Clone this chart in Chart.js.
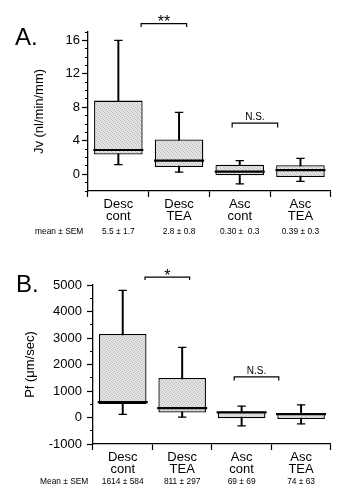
<!DOCTYPE html>
<html>
<head>
<meta charset="utf-8">
<script src="https://cdn.jsdelivr.net/npm/chart.js@4.4.1/dist/chart.umd.min.js"></script>
<style>
  html, body { margin: 0; padding: 0; background: #ffffff; }
  body { width: 358px; height: 500px; overflow: hidden; position: relative; }
  .panel { position: absolute; left: 0; width: 358px; height: 250px; }
</style>
</head>
<body>
<div class="panel" style="top:0"><canvas id="chartA"></canvas></div>
<div class="panel" style="top:250px"><canvas id="chartB"></canvas></div>
<script>
// ---------- data ----------
const categories = [["Desc", "cont"], ["Desc", "TEA"], ["Asc", "cont"], ["Asc", "TEA"]];

// Panel A: Jv (nl/min/mm)
const jvMin    = [1.15, 0.25, -1.15, -0.85];
const jvQ1     = [2.35, 0.87, -0.12, -0.32];
const jvMedian = [2.9, 1.63, 0.32, 0.5];
const jvQ3     = [8.8, 4.15, 1.15, 1.07];
const jvMax    = [16.0, 7.4, 1.63, 1.9];
const jvMeanSem = ["5.5 ± 1.7", "2.8 ± 0.8", "0.30 ±  0.3", "0.39 ± 0.3"];
const jvTicks = [0, 4, 8, 12, 16];
const jvSigFrom = [0, 2];
const jvSigTo = [1, 3];
const jvSigY = [18.0, 6.1];
const jvSigEnd = [17.6, 5.6];
const jvSigText = ["**", "N.S."];

// Panel B: Pf (µm/sec)
const pfMin    = [115, 15, -315, -240];
const pfQ1     = [505, 190, -25, -60];
const pfMedian = [580, 355, 190, 125];
const pfQ3     = [3150, 1490, 230, 165];
const pfMax    = [4800, 2650, 430, 480];
const pfMeanSem = ["1614 ± 584", "811 ± 297", "69 ± 69", "74 ± 63"];
const pfTicks = [-1000, 0, 1000, 2000, 3000, 4000, 5000];
const pfSigFrom = [0, 2];
const pfSigTo = [1, 3];
const pfSigY = [5300, 1530];
const pfSigEnd = [5190, 1400];
const pfSigText = ["*", "N.S."];

// ---------- helpers ----------
const FONT = '"Liberation Sans", Arial, Helvetica, sans-serif';

function stipple() {
  const c = document.createElement('canvas');
  c.width = 4; c.height = 4;
  const g = c.getContext('2d');
  g.fillStyle = '#e3e3e3'; g.fillRect(0, 0, 4, 4);
  g.fillStyle = '#bdbdbd';
  g.fillRect(0, 0, 1, 1); g.fillRect(2, 1, 1, 1); g.fillRect(1, 2, 1, 1); g.fillRect(3, 3, 1, 1);
  return g.createPattern(c, 'repeat');
}
const boxFill = stipple();

function buildDatasets(mins, q1, med, q3, maxs, sFrom, sTo, sY, sEnd) {
  const ds = [
    { type: 'bar', label: 'box', data: q1.map((v, i) => [v, q3[i]]),
      backgroundColor: boxFill, borderColor: '#000', borderWidth: 1.3, borderSkipped: false,
      barPercentage: 0.8, categoryPercentage: 1, grouped: false, order: 1 },
    { type: 'bar', label: 'whisker', data: mins.map((v, i) => [v, maxs[i]]),
      backgroundColor: '#000', borderWidth: 0, barThickness: 1.3, grouped: false, order: 3 },
    { type: 'line', label: 'median', data: med, showLine: false, pointStyle: 'line',
      pointRadius: 25, pointHoverRadius: 25, pointBorderColor: '#000', pointBorderWidth: 2.2, order: 0 },
    { type: 'line', label: 'min', data: mins, showLine: false, pointStyle: 'line',
      pointRadius: 4.2, pointHoverRadius: 4.2, pointBorderColor: '#000', pointBorderWidth: 1.3, order: 0 },
    { type: 'line', label: 'max', data: maxs, showLine: false, pointStyle: 'line',
      pointRadius: 4.2, pointHoverRadius: 4.2, pointBorderColor: '#000', pointBorderWidth: 1.3, order: 0 }
  ];
  sFrom.forEach((f, k) => {
    ds.push({ type: 'line', label: 'sig' + k, xAxisID: 'xl',
      data: [{ x: f, y: sEnd[k] }, { x: f, y: sY[k] }, { x: sTo[k], y: sY[k] }, { x: sTo[k], y: sEnd[k] }],
      borderColor: '#000', borderWidth: 1.2, pointRadius: 0, tension: 0, clip: false, order: 0 });
  });
  return ds;
}

const annotPlugin = {
  id: 'annot',
  afterDraw(chart, args, o) {
    const ctx = chart.ctx, xs = chart.scales.x, ys = chart.scales.y, xl = chart.scales.xl;
    ctx.save();
    ctx.fillStyle = '#000';
    ctx.textBaseline = 'alphabetic';
    ctx.textAlign = 'left';
    ctx.font = '24px ' + FONT;
    ctx.fillText(o.letter, o.letterX, o.letterY);
    ctx.font = '8.4px ' + FONT;
    ctx.textBaseline = 'middle';
    ctx.fillText(o.meanLabel, o.meanLabelX, o.meanY);
    ctx.textAlign = 'center';
    o.means.forEach((m, i) => ctx.fillText(m, xs.getPixelForValue(i), o.meanY));
    ctx.textBaseline = 'alphabetic';
    o.sigText.forEach((t, k) => {
      const star = t.indexOf('*') === 0;
      ctx.font = (star ? '16px ' : '10px ') + FONT;
      const px = xl.getPixelForValue((o.sigFrom[k] + o.sigTo[k]) / 2);
      const py = ys.getPixelForValue(o.sigY[k]) + (star ? 3.5 : -3);
      ctx.fillText(t, px, py);
    });
    ctx.restore();
  }
};

function makeChart(id, cfg) {
  const yTickSet = cfg.ticks;
  return new Chart(document.getElementById(id), {
    type: 'bar',
    data: {
      labels: categories,
      datasets: buildDatasets(cfg.mins, cfg.q1, cfg.med, cfg.q3, cfg.maxs, cfg.sFrom, cfg.sTo, cfg.sY, cfg.sEnd)
    },
    plugins: [annotPlugin],
    options: {
      responsive: true,
      maintainAspectRatio: false,
      animation: false,
      events: [],
      layout: { padding: cfg.padding },
      plugins: {
        legend: { display: false },
        tooltip: { enabled: false },
        annot: {
          letter: cfg.letter, letterX: cfg.letterX, letterY: cfg.letterY,
          meanLabel: cfg.meanLabel, meanLabelX: cfg.meanLabelX, meanY: cfg.meanY,
          means: cfg.means, sigText: cfg.sText, sigFrom: cfg.sFrom, sigTo: cfg.sTo, sigY: cfg.sY
        }
      },
      scales: {
        x: {
          afterFit(s) { s.height = 40; },
          ticks: { color: '#000', font: { family: FONT, size: 13, lineHeight: 0.93 }, padding: 1, maxRotation: 0, autoSkip: false },
          grid: { drawOnChartArea: false, tickLength: 6, tickColor: '#000', tickWidth: 1.2, offset: true },
          border: { color: '#000', width: 1.3 }
        },
        xl: { type: 'linear', display: false, min: -0.5, max: 3.5 },
        y: {
          min: cfg.yMin, max: cfg.yMax,
          afterFit(s) { s.width = cfg.yWidth; },
          ticks: {
            stepSize: cfg.step, autoSkip: false, padding: cfg.tickPad, color: '#000',
            font: { family: FONT, size: 13 },
            callback: (v) => (yTickSet.includes(v) ? String(v) : '')
          },
          grid: {
            drawOnChartArea: false, tickLength: 6, tickColor: '#000', tickWidth: 1.2,
            tickBorderDash: [6, 3],
            tickBorderDashOffset: (c) => (c.tick && yTickSet.includes(c.tick.value) ? 0 : 6)
          },
          border: { color: '#000', width: 1.3 },
          title: { display: true, text: cfg.title, color: '#000', font: { family: FONT, size: 13 }, padding: 0 }
        }
      }
    }
  });
}

makeChart('chartA', {
  mins: jvMin, q1: jvQ1, med: jvMedian, q3: jvQ3, maxs: jvMax,
  sFrom: jvSigFrom, sTo: jvSigTo, sY: jvSigY, sEnd: jvSigEnd, sText: jvSigText,
  ticks: jvTicks, yMin: -2, yMax: 17, step: 1, yWidth: 56, tickPad: 2,
  title: 'Jv (nl/min/mm)',
  padding: { left: 32, right: 18, top: 32, bottom: 19 },
  letter: 'A.', letterX: 15, letterY: 45,
  meanLabel: 'mean ± SEM', meanLabelX: 35, meanY: 232, means: jvMeanSem
});

makeChart('chartB', {
  mins: pfMin, q1: pfQ1, med: pfMedian, q3: pfQ3, maxs: pfMax,
  sFrom: pfSigFrom, sTo: pfSigTo, sY: pfSigY, sEnd: pfSigEnd, sText: pfSigText,
  ticks: pfTicks, yMin: -1000, yMax: 5000, step: 500, yWidth: 70, tickPad: 5,
  title: 'Pf (μm/sec)',
  padding: { left: 23, right: 12, top: 35, bottom: 16 },
  letter: 'B.', letterX: 16, letterY: 42,
  meanLabel: 'Mean ± SEM', meanLabelX: 40, meanY: 232, means: pfMeanSem
});
</script>
</body>
</html>
